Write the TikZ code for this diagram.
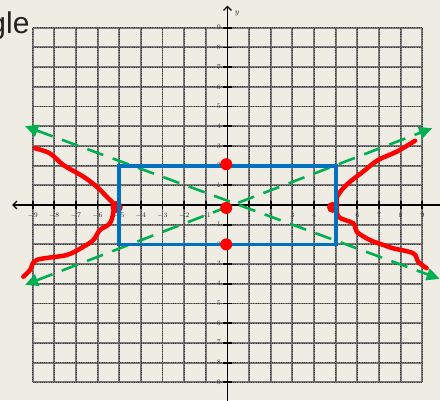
\documentclass[tikz,border=0pt]{standalone}
\usepackage{fontspec}
\newfontfamily\titlefont{Liberation Sans}
\usetikzlibrary{arrows.meta}
\definecolor{bg}{RGB}{239,236,228}
\definecolor{gridgray}{RGB}{120,120,120}
\definecolor{hypred}{RGB}{255,0,0}
\definecolor{rectblue}{RGB}{0,112,192}
\definecolor{asygreen}{RGB}{0,176,80}
\definecolor{labelgray}{RGB}{45,45,45}
\definecolor{titlegray}{RGB}{35,35,35}
\tikzset{
  gridA/.style={draw=gridgray, line width=1.9pt},
  gridB/.style={draw=black!75, line width=0.7pt, dash pattern=on 1pt off 1.3pt},
  axisline/.style={draw=black, line width=1.2pt},
  tickmark/.style={draw=black, line width=1.8pt},
  ticklabel/.style={text=labelgray, font=\fontsize{7.5}{8}\selectfont, inner sep=0pt},
  hyper/.style={draw=hypred, line width=4.5pt, line cap=round, line join=round},
  asym/.style={draw=asygreen, line width=2.6pt, dash pattern=on 17pt off 10pt,
    {Triangle[length=13pt,width=12pt]}-{Triangle[length=13pt,width=12pt]}},
  box/.style={draw=rectblue, line width=3.8pt},
  reddot/.style={fill=hypred}
}
\begin{document}
\begin{tikzpicture}[x=21.65pt,y=19.7pt]
\useasboundingbox (-227.5pt,-195pt) rectangle (212.5pt,205pt);
\fill[bg] (-227.5pt,-195pt) rectangle (212.5pt,205pt);
% title fragment
\node[anchor=base west, inner sep=0pt, text=titlegray, font=\titlefont\fontsize{30}{30}\selectfont]
  (title) at (-238.2pt,172pt) {gle};
% grid
\foreach \i in {-9,...,9} {
  \draw[gridA] (\i,-9) -- (\i,9);
  \draw[gridA] (-9,\i) -- (9,\i);
}
\foreach \i in {-9,...,9} {
  \draw[gridB] (\i,-9) -- (\i,9);
  \draw[gridB] (-9,\i) -- (9,\i);
}
% axes
\coordinate (xl) at (-9.95,0);
\coordinate (xr) at (9.9,0);
\coordinate (yt) at (0,10.12);
\coordinate (yb) at (0,-10);
\draw[axisline, {Straight Barb[length=4pt,width=8pt]}-] (xl) -- (xr);
\draw[axisline, {Straight Barb[length=4pt,width=8pt]}-] (yt) -- (yb);
\node[anchor=west, inner sep=0pt, font=\fontsize{8}{8}\selectfont\itshape, text=labelgray] (ylab) at (0.33,9.7) {$y$};
\foreach \i in {-9,...,-1,1,2,...,9} {
  \draw[tickmark] (\i,-0.2) -- (\i,0.2);
  \draw[tickmark] (-0.19,\i) -- (0.19,\i);
  \node[ticklabel, anchor=center] at (\i,-0.52) {$\i$};
  \node[ticklabel, anchor=east] at (-0.3,\i) {$\i$};
}
% hyperbola branches
\draw[hyper] plot[smooth, tension=0.55] coordinates {
  (8.66,3.26) (7.82,2.71) (6.95,2.28) (6.26,1.69) (5.66,1.18) (5.27,0.76)
  (5.04,0.36) (5.04,0.09) (5.12,-0.59) (5.81,-0.93) (5.97,-1.36) (6.58,-1.78)
  (7.20,-2.03) (7.66,-2.20) (8.58,-2.45) (8.81,-2.88) (9.20,-3.21)};
\draw[hyper] plot[smooth, tension=0.55] coordinates {
  (-8.89,2.88) (-8.20,2.62) (-7.58,2.03) (-6.66,1.44) (-6.04,0.93) (-5.58,0.42)
  (-5.27,0.05) (-5.27,-0.34) (-5.43,-0.93) (-5.89,-1.27) (-6.20,-1.78)
  (-6.66,-2.12) (-7.43,-2.54) (-8.81,-2.79) (-9.12,-3.30) (-9.43,-3.64)};
\fill[reddot] (-5.12,-0.1) circle (6pt);
\fill[reddot] (4.85,-0.12) circle (5.5pt);
% asymptotes
\coordinate (aul) at (-9.35,4.0);
\coordinate (alr) at (9.8,-3.75);
\coordinate (all) at (-9.35,-4.05);
\coordinate (aur) at (9.45,3.9);
\draw[asym] (aul) -- (alr);
\draw[asym] (all) -- (aur);
% rectangle
\draw[box] (-5,-2) rectangle (5,2);
% dots
\fill[reddot] (-0.06,2.07) circle (6pt);
\fill[reddot] (-0.06,-0.15) circle (6pt);
\fill[reddot] (-0.06,-2.0) circle (6pt);
\end{tikzpicture}
\end{document}
